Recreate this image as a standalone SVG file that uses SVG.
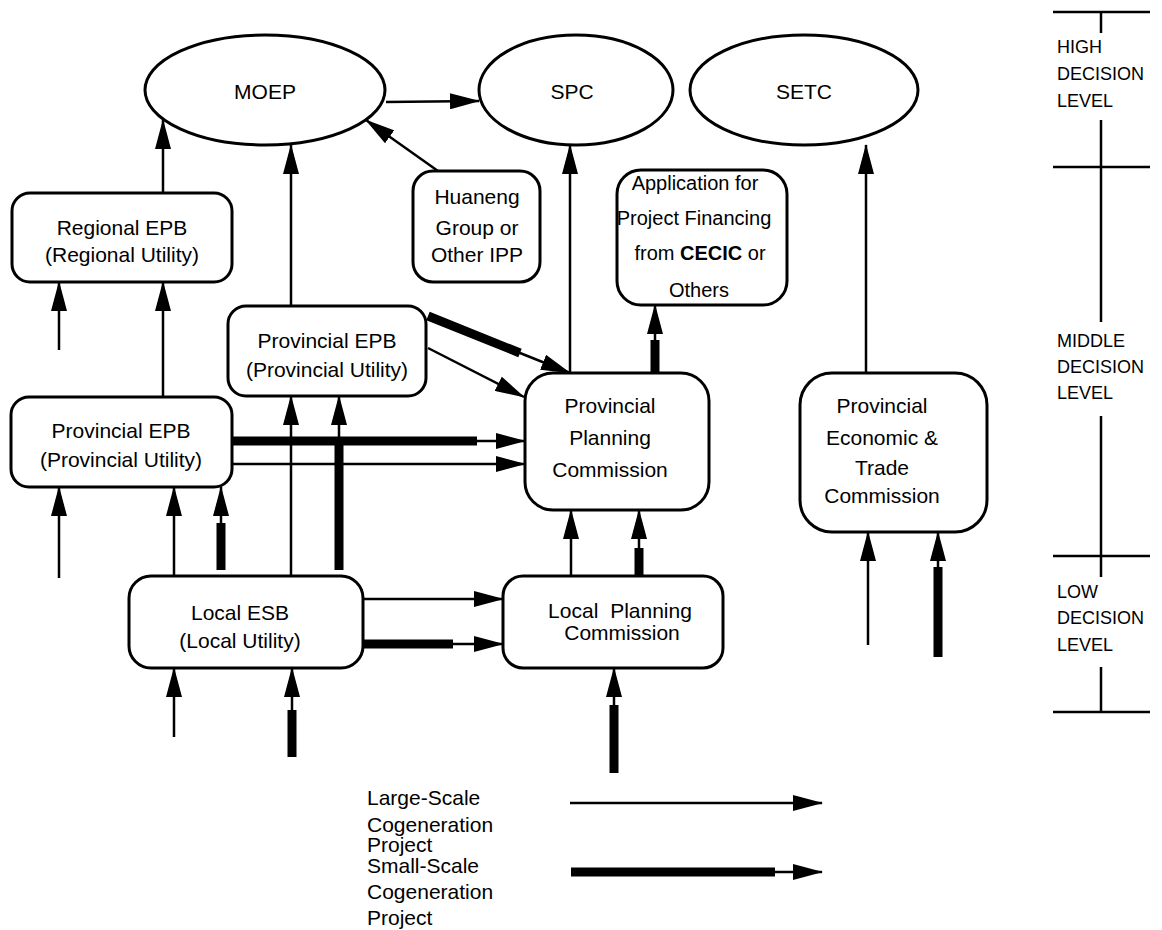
<svg xmlns="http://www.w3.org/2000/svg" width="1162" height="930" viewBox="0 0 1162 930">
<defs>
<marker id="ah" markerUnits="userSpaceOnUse" markerWidth="30" markerHeight="16" refX="29" refY="8" orient="auto">
<path d="M0,0 L30,8 L0,16 z" fill="#000"/>
</marker>
<style>
.n{fill:#fff;stroke:#000;stroke-width:3}
.t{font-family:"Liberation Sans",Arial,sans-serif;font-size:21px;fill:#000;text-anchor:middle}
.s{font-family:"Liberation Sans",Arial,sans-serif;font-size:18px;fill:#000}
.l{font-family:"Liberation Sans",Arial,sans-serif;font-size:21px;fill:#000}
.a{stroke:#000;stroke-width:2.5;fill:none;marker-end:url(#ah)}
.k{stroke:#000;stroke-width:9;fill:none}
.r{stroke:#000;stroke-width:2.5;fill:none}
</style>
</defs>
<rect width="1162" height="930" fill="#fff"/>

<g id="connectors">
<line class="a" x1="386" y1="102" x2="479" y2="101"/>
<line class="a" x1="163" y1="193" x2="163" y2="120"/>
<line class="a" x1="291" y1="306" x2="291" y2="145"/>
<line class="a" x1="438" y1="171" x2="366" y2="120"/>
<line class="a" x1="570" y1="373" x2="570" y2="145"/>
<line class="a" x1="866" y1="373" x2="866" y2="145"/>
<line class="k" x1="655" y1="373" x2="655" y2="340"/>
<line class="a" x1="655" y1="345" x2="655" y2="305"/>
<line class="a" x1="59" y1="350" x2="59" y2="282"/>
<line class="a" x1="163" y1="397" x2="163" y2="282"/>
<line class="k" x1="428" y1="316" x2="520" y2="353"/>
<line class="a" x1="515" y1="351" x2="570" y2="373"/>
<line class="a" x1="428" y1="348" x2="524" y2="397"/>
<line class="k" x1="232" y1="441" x2="477" y2="441"/>
<line class="a" x1="470" y1="441" x2="525" y2="441"/>
<line class="a" x1="232" y1="464" x2="525" y2="464"/>
<line class="a" x1="291" y1="576" x2="291" y2="396"/>
<line class="k" x1="339" y1="570" x2="339" y2="441"/>
<line class="a" x1="339" y1="445" x2="339" y2="396"/>
<line class="a" x1="59" y1="578" x2="59" y2="487"/>
<line class="a" x1="174" y1="576" x2="174" y2="487"/>
<line class="k" x1="221" y1="570" x2="221" y2="523"/>
<line class="a" x1="221" y1="527" x2="221" y2="487"/>
<line class="a" x1="363" y1="599" x2="503" y2="599"/>
<line class="k" x1="363" y1="644" x2="453" y2="644"/>
<line class="a" x1="448" y1="644" x2="503" y2="644"/>
<line class="a" x1="174" y1="737" x2="174" y2="668"/>
<line class="k" x1="292" y1="757" x2="292" y2="710"/>
<line class="a" x1="292" y1="714" x2="292" y2="668"/>
<line class="a" x1="571" y1="576" x2="571" y2="510"/>
<line class="k" x1="639" y1="576" x2="639" y2="548"/>
<line class="a" x1="639" y1="552" x2="639" y2="510"/>
<line class="k" x1="614" y1="773" x2="614" y2="705"/>
<line class="a" x1="614" y1="709" x2="614" y2="668"/>
<line class="a" x1="868" y1="645" x2="868" y2="532"/>
<line class="k" x1="938" y1="657" x2="938" y2="567"/>
<line class="a" x1="938" y1="571" x2="938" y2="532"/>
</g>

<g id="MOEP"><ellipse class="n" cx="265" cy="90" rx="120" ry="55"/><text class="t" x="265" y="99">MOEP</text></g>
<g id="SPC"><ellipse class="n" cx="576" cy="90" rx="97" ry="55"/><text class="t" x="572" y="99">SPC</text></g>
<g id="SETC"><ellipse class="n" cx="804" cy="90" rx="114" ry="55"/><text class="t" x="804" y="99">SETC</text></g>

<g id="regional-epb"><rect class="n" x="12" y="193" width="220" height="89" rx="18"/>
<text class="t" x="122" y="235">Regional EPB</text><text class="t" x="122" y="262">(Regional Utility)</text></g>

<g id="huaneng"><rect class="n" x="413" y="171" width="127" height="111" rx="20"/>
<text class="t" x="477" y="204">Huaneng</text><text class="t" x="477" y="235">Group or</text><text class="t" x="477" y="262">Other IPP</text></g>

<g id="application"><rect class="n" x="617" y="170" width="170" height="135" rx="24"/>
<text class="t" x="695" y="190" style="font-size:20px">Application for</text>
<text class="t" x="694" y="225" style="font-size:20px">Project Financing</text>
<text class="t" x="700" y="260" style="font-size:20px">from <tspan font-weight="bold">CECIC</tspan> or</text>
<text class="t" x="699" y="297" style="font-size:20px">Others</text></g>

<g id="prov-epb-upper"><rect class="n" x="228" y="306" width="198" height="90" rx="18"/>
<text class="t" x="327" y="348">Provincial EPB</text><text class="t" x="327" y="377">(Provincial Utility)</text></g>

<g id="prov-epb-left"><rect class="n" x="11" y="397" width="221" height="90" rx="18"/>
<text class="t" x="121" y="438">Provincial EPB</text><text class="t" x="121" y="467">(Provincial Utility)</text></g>

<g id="prov-planning"><rect class="n" x="525" y="373" width="184" height="137" rx="28"/>
<text class="t" x="610" y="413">Provincial</text><text class="t" x="610" y="445">Planning</text><text class="t" x="610" y="477">Commission</text></g>

<g id="prov-econ"><rect class="n" x="800" y="373" width="187" height="159" rx="32"/>
<text class="t" x="882" y="413">Provincial</text><text class="t" x="882" y="445">Economic &amp;</text><text class="t" x="882" y="475">Trade</text><text class="t" x="882" y="503">Commission</text></g>

<g id="local-esb"><rect class="n" x="129" y="576" width="234" height="92" rx="22"/>
<text class="t" x="240" y="620">Local ESB</text><text class="t" x="240" y="648">(Local Utility)</text></g>

<g id="local-planning"><rect class="n" x="503" y="576" width="220" height="92" rx="20"/>
<text class="t" x="620" y="618" word-spacing="6">Local Planning</text><text class="t" x="622" y="640">Commission</text></g>

<g id="scale">
<line class="r" x1="1053" y1="12" x2="1150" y2="12"/>
<line class="r" x1="1101" y1="12" x2="1101" y2="33"/>
<text class="s" x="1057" y="53">HIGH</text><text class="s" x="1057" y="80">DECISION</text><text class="s" x="1057" y="107">LEVEL</text>
<line class="r" x1="1101" y1="120" x2="1101" y2="322"/>
<line class="r" x1="1053" y1="167" x2="1150" y2="167"/>
<text class="s" x="1057" y="347">MIDDLE</text><text class="s" x="1057" y="373">DECISION</text><text class="s" x="1057" y="399">LEVEL</text>
<line class="r" x1="1101" y1="416" x2="1101" y2="577"/>
<line class="r" x1="1053" y1="556" x2="1150" y2="556"/>
<text class="s" x="1057" y="598">LOW</text><text class="s" x="1057" y="624">DECISION</text><text class="s" x="1057" y="651">LEVEL</text>
<line class="r" x1="1101" y1="667" x2="1101" y2="712"/>
<line class="r" x1="1053" y1="712" x2="1150" y2="712"/>
</g>

<g id="legend">
<text class="l" x="367" y="805">Large-Scale</text>
<text class="l" x="367" y="832">Cogeneration</text>
<text class="l" x="367" y="852">Project</text>
<text class="l" x="367" y="873">Small-Scale</text>
<text class="l" x="367" y="899">Cogeneration</text>
<text class="l" x="367" y="925">Project</text>
<line class="a" x1="570" y1="803" x2="822" y2="803"/>
<line class="k" x1="571" y1="872" x2="775" y2="872"/>
<line class="a" x1="770" y1="872" x2="822" y2="872"/>
</g>
</svg>
